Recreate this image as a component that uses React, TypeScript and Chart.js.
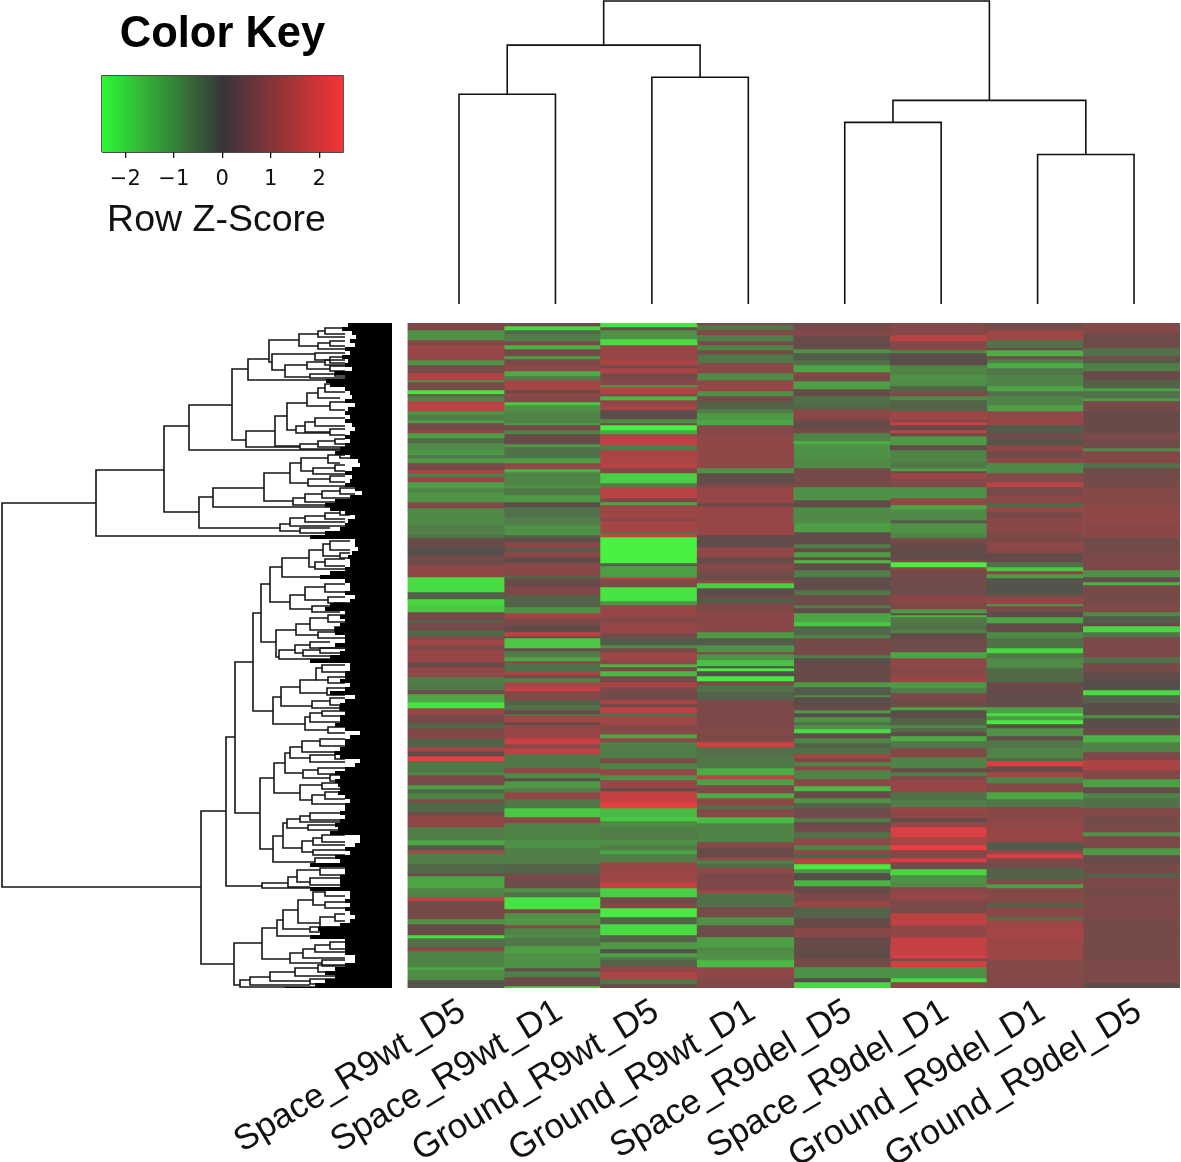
import React, { useEffect, useRef } from "react";
import { Chart, registerables } from "chart.js";

Chart.register(...registerables);

const FONT = "'Liberation Sans', Arial, sans-serif";

const colLabels = ["Space_R9wt_D5", "Space_R9wt_D1", "Ground_R9wt_D5", "Ground_R9wt_D1", "Space_R9del_D5", "Space_R9del_D1", "Ground_R9del_D1", "Ground_R9del_D5"];

// Each band: [row where the band ends, z-score]
const spaceR9wtD5 = [[7,.6],[17,-1],[23,.7],[25,1.2],[37,1],[42,-1],[50,.5],[57,1.4],[59,-1],[67,.5],[71,-2.2],[73,.4],[78,-.8],[88,1.5],[92,-1],[97,-.7],[100,-1.2],[107,.5],[110,.9],[115,-1.2],[120,-.4],[127,-.9],[132,-1.1],[135,-.6],[140,-1.1],[147,.5],[150,1.4],[154,-.7],[159,1],[165,-1.2],[169,-.8],[179,-1],[185,.7],[202,-.9],[212,-.7],[215,-.5],[224,.3],[232,0],[242,.4],[254,.9],[269,-2.1],[276,-.3],[282,-2],[289,-1.8],[297,.5],[300,-.3],[307,.5],[313,-.4],[317,.7],[322,1.2],[327,.6],[339,1],[344,.3],[354,.9],[360,-.7],[367,-.6],[371,.4],[379,-1.3],[385,-2.2],[392,1],[400,.5],[405,-.4],[411,.6],[415,.8],[424,-.3],[428,1.2],[433,.2],[438,2.2],[449,-.6],[452,-.9],[457,.6],[462,.5],[466,-1.2],[470,-.4],[476,-.8],[479,.7],[489,-.4],[493,.4],[504,.9],[517,-.7],[522,-1.3],[527,-.2],[530,1.3],[541,-.7],[550,-.4],[553,.4],[565,-1.3],[574,-.8],[578,1.5],[596,.5],[601,-1],[612,.3],[615,-2.1],[624,-.5],[628,.9],[644,-.8],[647,-1.3],[657,-.9],[665,-.1]];
const spaceR9wtD1 = [[3,.4],[7,-2],[11,-.4],[18,-.7],[22,.5],[26,-1.5],[33,.4],[36,-1.2],[42,.6],[48,.9],[53,-1.4],[57,-.7],[67,1.2],[70,.3],[73,.9],[79,.7],[82,-1.8],[88,-1],[100,-.8],[102,-1.1],[107,.5],[111,-.8],[117,.3],[121,.3],[124,-1.1],[135,-.5],[140,-1.2],[146,.9],[149,-1.5],[162,-.8],[165,-1],[172,-.6],[179,-1.1],[184,.1],[194,-.5],[202,-.7],[212,-1],[215,-.3],[219,.2],[225,.8],[229,-.2],[234,.9],[240,.2],[253,.8],[255,-.4],[264,.3],[267,.7],[272,.6],[284,-.3],[290,-1],[295,1.2],[302,.6],[309,.2],[313,1.6],[315,.3],[325,-1.8],[328,.3],[334,-.7],[338,-1.3],[340,.9],[349,-.5],[352,1.4],[355,.4],[359,-.8],[364,1.2],[368,1.7],[377,.7],[382,-.3],[387,-.5],[391,.3],[393,-.6],[399,1.2],[402,.3],[415,1],[421,1.8],[425,.8],[431,1.6],[445,-.6],[450,.9],[455,-.9],[458,.1],[465,-1.1],[469,-.7],[476,.9],[485,-.6],[494,-1.8],[500,.8],[517,-.8],[525,-1],[541,-.7],[551,-.3],[556,.5],[565,.4],[569,-1],[574,-.5],[586,-2.2],[590,.6],[595,-1],[602,-1.1],[605,.8],[611,-.8],[615,-.9],[623,-.6],[630,-1.2],[645,-1],[648,.2],[654,-.7],[663,.3],[665,-1.8]];
const groundR9wtD5 = [[4,-2.2],[7,.3],[16,-1],[22,-2.1],[37,1],[42,1.3],[45,.4],[50,1.3],[55,.5],[62,.7],[64,-1.1],[71,1.4],[73,.5],[77,-1.6],[82,.9],[87,1.2],[96,.1],[100,-.9],[102,.3],[107,-2.4],[111,-1.3],[115,1.3],[122,1.6],[127,-.7],[140,1.3],[145,1.5],[150,.7],[160,-1.9],[164,-.7],[175,1.5],[179,.6],[182,-1.3],[195,1.1],[198,.8],[209,1.2],[211,-.6],[214,1.8],[240,-2.4],[243,-.3],[254,-1.2],[256,1.5],[264,.7],[278,-2.2],[282,-1],[294,1],[300,.7],[310,1],[315,.4],[322,-.2],[325,-.9],[329,.5],[337,1.1],[341,.8],[344,-1.5],[348,.5],[353,-1.6],[359,.5],[364,1.3],[369,.6],[374,.4],[377,.6],[381,1.3],[384,.3],[390,1.6],[393,-.5],[402,1.1],[407,.7],[411,.8],[415,-1.3],[419,.9],[435,-.7],[440,.6],[446,-.8],[452,1],[457,-1],[465,1],[468,.2],[479,1.7],[485,2.2],[494,-1.6],[498,-1.8],[504,-.9],[517,-.7],[522,-1],[527,-.7],[531,-1.3],[539,-.7],[541,1.2],[550,1],[559,1.1],[565,1.7],[574,-1.9],[580,.4],[585,.7],[594,-2.3],[601,-.3],[612,-2.1],[619,-.3],[626,-1.1],[630,0],[634,-1.2],[637,-.6],[643,-.3],[649,.9],[656,1.4],[661,-.6],[665,.3]];
const groundR9wtD1 = [[2,.5],[7,-.6],[12,.7],[18,-.7],[22,.5],[27,-.8],[31,.5],[40,-.6],[50,.8],[57,-.9],[62,.9],[68,1],[73,-1],[78,.5],[86,-.3],[90,-.7],[97,-1.1],[102,-1.3],[112,.7],[145,.9],[150,-1],[160,.2],[164,.5],[180,1],[183,.3],[212,1],[224,.2],[234,.9],[240,.3],[249,.7],[257,.4],[260,.8],[265,-1.9],[272,.1],[275,.4],[280,-.2],[289,.6],[309,.8],[315,-1.1],[322,-.2],[329,-1],[331,.6],[337,-1],[343,-1.7],[345,0],[348,-2.3],[353,0],[358,-2.3],[362,.6],[369,-.5],[377,-.3],[405,.6],[411,.7],[419,.6],[424,1.9],[434,-.5],[445,-.6],[452,-1.4],[456,1.6],[462,-1.2],[470,.6],[475,-1.4],[482,.9],[486,-.5],[494,.7],[500,-1.6],[519,-.8],[525,.7],[534,.3],[537,.9],[541,-.7],[545,-.4],[550,.9],[567,.6],[570,1.2],[584,-.5],[594,.5],[602,-1],[614,.4],[624,-1.2],[631,-.9],[637,-1],[644,-1.6],[655,.9],[665,.7]];
const spaceR9delD5 = [[7,.5],[13,.7],[18,.3],[26,.3],[30,-1],[37,-.2],[42,-.5],[49,-1.3],[53,.8],[58,.5],[66,-1.2],[73,.3],[80,-.5],[86,-.4],[95,.8],[98,.6],[105,.2],[110,.5],[118,-.8],[121,-1.4],[135,-1],[145,-.9],[164,.5],[177,-1],[184,.2],[200,-.9],[209,-1.2],[215,.2],[221,.2],[225,-.7],[229,.3],[234,-1.2],[237,.3],[240,-1.6],[247,.2],[254,-.7],[267,.2],[272,-.6],[282,.4],[285,-.7],[290,.2],[299,-1.3],[303,-1.8],[312,-.4],[315,-.8],[332,.5],[335,-.7],[341,.1],[359,.3],[364,-1.1],[372,-.2],[374,-.9],[382,.1],[387,.3],[390,-1.1],[394,.1],[399,-1],[402,-.5],[406,-1],[410,-2.1],[415,.2],[420,-.8],[425,-.3],[431,-.5],[435,1.2],[439,.6],[443,-.8],[447,.9],[451,-.8],[456,-.8],[463,.8],[468,-1.6],[475,.3],[480,-1],[485,-.3],[495,.4],[499,-.7],[504,.3],[509,.5],[515,-.5],[522,.9],[527,-.8],[531,.9],[535,-.3],[541,1.5],[546,-2.3],[550,-1],[557,0],[563,-1.5],[570,.3],[578,.6],[584,1.1],[595,-.3],[605,.3],[614,.8],[624,.3],[635,.2],[644,.5],[655,-1],[659,0],[665,-2]];
const spaceR9delD1 = [[8,.7],[12,.8],[18,1.5],[27,.7],[30,-.8],[42,.1],[52,-.8],[58,-1],[63,-.9],[69,-.3],[73,.7],[77,-.9],[88,-.3],[97,1.1],[99,.7],[102,1.8],[107,.3],[110,1.6],[113,.3],[122,-1.1],[127,.2],[139,-.8],[145,-.6],[148,-1.2],[150,.3],[155,1.1],[164,.7],[175,-1],[182,.9],[186,-1.3],[197,-.9],[200,-.2],[210,-1],[215,-.8],[220,.5],[224,.3],[237,.2],[239,.6],[244,-2.4],[247,.9],[254,.5],[272,.4],[280,.8],[286,.6],[290,-1.1],[292,.2],[294,-1.5],[302,-.6],[307,-.5],[310,-.8],[315,.2],[329,.4],[335,-1.3],[345,.9],[352,.7],[359,1],[365,-1.1],[370,-.7],[377,.6],[384,.4],[387,-1.3],[395,.1],[402,-.3],[405,-.9],[409,-.4],[413,.2],[418,-1.4],[425,-.6],[434,.7],[445,-.8],[449,.3],[453,-.7],[457,.7],[464,1],[469,1],[477,-.5],[484,-.7],[490,1],[495,.8],[499,.2],[504,1],[514,2],[522,1.2],[527,2.3],[535,.7],[539,2],[546,.4],[552,-2],[560,-1],[564,-.9],[570,.8],[577,1],[584,.6],[590,.5],[602,1.6],[614,.9],[632,1.7],[635,2],[638,.7],[644,1.9],[655,-1],[659,-2],[665,.8]];
const groundR9delD1 = [[7,.5],[17,1.1],[25,-.5],[27,.3],[33,-1.4],[36,.4],[40,-.7],[45,-1.4],[52,-.6],[63,-.8],[68,-1.3],[73,-.5],[82,-.8],[88,-1.2],[95,.9],[102,1],[110,-.2],[117,.4],[122,-.1],[128,.9],[135,.4],[140,.9],[150,-.9],[159,.7],[164,1.5],[172,.5],[180,.8],[184,-.4],[189,1],[194,.5],[199,.8],[210,.8],[219,.6],[224,.9],[230,.8],[239,.2],[244,-.5],[248,-1.8],[251,.8],[255,-1.2],[272,-.1],[277,.7],[281,1],[283,-1.1],[289,.5],[294,.1],[300,-1.3],[305,.2],[309,.3],[315,-.9],[325,-.5],[330,-2],[335,-.6],[345,-.9],[359,-.4],[367,.3],[380,.2],[384,.3],[390,-1.2],[393,-2.1],[397,-1.1],[401,-2.3],[405,.1],[409,-1],[413,-1],[417,.2],[425,-.6],[435,-.8],[438,-.4],[443,2.1],[449,.3],[454,1.2],[460,-.8],[469,.7],[476,-1.3],[484,-.6],[489,.8],[497,.8],[504,.9],[519,1],[527,-.2],[531,1],[535,2],[541,.6],[545,.5],[557,-.3],[561,.7],[565,-1.2],[580,.7],[584,-.3],[594,.8],[597,-.5],[605,1.1],[617,1.2],[637,1.1],[665,.7]];
const groundR9delD5 = [[10,.7],[25,.4],[33,-.5],[36,.6],[40,-.2],[48,-.7],[57,.3],[65,-.3],[68,-1.2],[75,-.5],[78,-1.1],[88,.5],[110,.3],[117,.6],[125,.4],[128,-.9],[140,.7],[145,-.5],[155,.4],[165,.5],[182,.7],[200,.9],[215,.8],[222,.4],[232,.5],[247,.6],[254,-1],[259,.2],[262,-1.5],[272,.5],[282,.5],[289,.7],[293,-.9],[300,-.2],[303,.3],[309,-2],[314,-.6],[334,.6],[340,-.5],[349,.5],[357,.2],[367,0],[372,-2.1],[380,-.3],[392,.1],[395,-1],[405,.1],[412,.3],[419,-1.5],[429,-.8],[437,.6],[447,1.3],[456,.7],[464,-1.2],[470,.2],[475,-.8],[485,-.5],[493,.7],[504,.5],[509,.6],[513,-1],[525,.6],[532,-1.1],[540,.3],[550,.5],[554,-.3],[564,.6],[574,.5],[594,.6],[607,.5],[637,.5],[660,.6],[665,.1]];
const heatColumns = [spaceR9wtD5, spaceR9wtD1, groundR9wtD5, groundR9wtD1, spaceR9delD5, spaceR9delD1, groundR9delD1, groundR9delD5];

// Column dendrogram: [child, child, merge height]; children 0-7 are leaves, 8+ earlier merges
const colMerges = [[0,1,209],[2,3,226],[8,9,258],[4,5,181],[6,7,149],[11,12,203],[10,13,302]];

// Row dendrogram brackets: [depth, row A, child depth A, row B, child depth B]
const rowBrackets = [
[2,503,96,887,201],[96,470,164,536,350],[164,426,189,512,199],[189,405,232,450,345],[232,369,248,440,246],[246,431,275,447,300],
[248,359,269,380,345],[269,340,299,362,272],[272,354,315,370,285],[299,334,318,346,318],[318,331,325,337,345],[325,328,345,334,345],[318,343,330,349,345],[330,341,345,346,345],[315,353,345,360,330],[330,357,345,363,345],[285,365,307,377,310],[307,362,325,369,330],[325,360,345,365,345],[330,366,345,371,345],[310,374,335,378,345],[335,372,345,376,345],
[275,416,287,446,300],[287,403,307,430,296],[307,393,318,406,330],[318,388,325,398,340],[325,384,338,392,345],[338,381,345,386,345],[330,402,345,410,345],[296,426,305,433,330],[305,422,315,432,330],[315,418,345,426,345],[330,429,345,435,345],[300,444,318,449,345],[318,441,335,447,345],[335,439,345,444,345],
[199,497,213,528,280],[213,488,264,507,345],[264,473,290,501,293],[290,463,301,483,308],[301,458,328,471,313],[328,455,345,463,340],[340,452,355,458,355],[313,468,335,474,345],[335,465,345,471,345],[308,479,330,486,345],[330,476,345,482,345],[293,498,305,505,330],[305,494,322,502,345],[322,491,340,498,350],[340,488,355,494,355],[280,524,290,531,300],[290,518,305,526,345],[305,516,325,522,345],[325,513,340,519,345],[340,510,350,515,350],[300,528,330,533,345],
[201,811,226,964,234],[226,737,235,886,262],[235,662,253,813,260],[253,613,261,711,273],[261,584,270,642,276],[270,567,282,602,290],[282,558,309,577,345],[309,550,323,567,315],[323,544,330,556,340],[330,541,350,550,350],[340,553,350,558,350],[315,562,325,569,345],[325,559,345,566,345],[290,595,305,609,312],[305,587,325,600,328],[325,584,345,592,345],[328,597,345,603,345],[312,606,335,612,340],[335,603,350,609,350],
[276,630,296,657,279],[279,650,295,659,345],[296,624,310,635,318],[310,618,328,630,335],[328,615,345,622,345],[335,627,345,632,345],[318,632,345,638,345],[295,645,310,653,303],[310,642,330,648,345],[303,650,320,656,345],[320,648,345,653,345],
[273,697,281,724,305],[281,687,300,706,312],[300,680,316,693,327],[316,668,322,680,328],[322,665,345,672,345],[328,677,345,683,345],[327,688,345,695,345],[312,701,330,708,340],[330,698,345,705,345],[340,706,345,710,345],[305,717,310,730,328],[310,713,322,722,345],[322,711,345,716,345],[328,727,345,733,345],
[260,778,274,849,273],[274,763,285,793,300],[285,753,290,773,303],[290,747,302,758,310],[302,741,320,752,345],[320,739,345,746,345],[310,755,335,762,345],[335,752,345,759,345],[303,770,318,778,330],[318,768,345,774,345],[330,775,350,781,350],[300,785,322,800,312],[322,783,345,789,345],[312,795,325,804,345],[325,792,345,799,345],
[273,836,283,862,315],[283,823,287,848,302],[287,819,300,828,308],[300,816,310,822,345],[310,813,345,820,345],[308,825,345,830,345],[302,841,313,852,313],[313,838,322,845,345],[322,835,345,842,345],[313,850,345,855,345],[315,858,345,865,345],
[262,883,288,888,345],[288,877,297,887,310],[297,870,320,882,310],[320,868,345,875,345],[310,878,345,885,345],
[234,943,262,985,240],[262,928,277,959,290],[277,920,283,936,345],[283,910,298,929,310],[298,900,313,923,320],[313,892,325,905,325],[325,890,345,896,345],[325,902,345,908,345],[320,917,335,927,345],[335,914,345,921,345],[310,927,345,932,345],
[290,953,303,963,322],[303,949,315,958,345],[315,945,330,952,345],[330,942,345,949,345],[322,960,345,966,345],
[240,980,250,987,345],[250,977,270,985,310],[270,972,295,981,310],[295,968,318,976,345],[318,965,345,972,345],[310,979,345,984,345],
];

// Where the dense mass of leaf branches begins, for consecutive 4-row steps from the top
const leafMassDepth = [348,342,352,356,350,355,345,350,342,348,345,352,335,345,326,330,345,350,352,345,355,348,345,350,345,352,355,350,345,350,345,340,335,350,358,360,352,345,352,350,345,355,362,350,335,325,330,345,355,348,345,340,325,310,355,355,358,352,348,350,350,345,330,320,345,350,350,345,355,350,330,325,345,340,345,340,335,335,345,345,335,345,340,330,310,350,350,345,345,340,350,345,330,355,345,340,340,345,340,340,335,345,360,350,345,345,340,335,340,360,355,345,335,340,335,338,340,338,345,350,345,345,340,345,340,335,338,330,360,360,355,345,350,335,340,310,345,345,340,340,340,310,350,350,345,350,345,350,355,350,340,318,320,310,345,345,345,345,355,355,345,335,325,335,325,315,285];

const keyTicks = [-2, -1, 0, 1, 2];

function heatColor(z: number) {
  const t = Math.min(Math.abs(z) / 2.5, 1);
  const r = z > 0 ? 85 + 165 * t : 85 - 15 * t;
  const g = z > 0 ? 78 - 18 * t : 78 + 170 * t;
  const b = 75 - 10 * t;
  return `rgb(${r | 0},${g | 0},${b | 0})`;
}

function useChart(make: (c: HTMLCanvasElement) => Chart) {
  const ref = useRef<HTMLCanvasElement | null>(null);
  useEffect(() => {
    const chart = make(ref.current!);
    return () => chart.destroy();
  }, []);
  return ref;
}

const hiddenScale = (min: number, max: number, reverse = false) => ({
  type: "linear" as const, min, max, reverse, display: false,
});

function makeKey(c: HTMLCanvasElement) {
  const keyMin = -2.48, keyMax = 2.49;
  return new Chart(c, {
    type: "scatter",
    data: {
      datasets: [{
        data: [{ x: keyMin, y: 1 }, { x: keyMax, y: 1 }],
        showLine: true, pointRadius: 0, borderWidth: 0, fill: "origin", clip: false,
        backgroundColor: (ctx: any) => {
          const area = ctx.chart.chartArea;
          if (!area) return "#333";
          const g = ctx.chart.ctx.createLinearGradient(area.left, 0, area.right, 0);
          g.addColorStop(0, "#2ef733");
          g.addColorStop(0.5, "#38353a");
          g.addColorStop(1, "#f53336");
          return g;
        },
      }, {
        data: [{ x: keyMin, y: 0 }, { x: keyMin, y: 1 }, { x: keyMax, y: 1 }, { x: keyMax, y: 0 }, { x: keyMin, y: 0 }],
        showLine: true, pointRadius: 0, borderColor: "#111", borderWidth: 1.4, fill: false, clip: false,
      }],
    },
    options: {
      animation: false, responsive: false,
      layout: { padding: 0 },
      plugins: {
        legend: { display: false }, tooltip: { enabled: false },
        title: { display: true, text: "Color Key", fullSize: false, color: "#000", font: { family: FONT, size: 43.5, weight: "bold", lineHeight: 1 }, padding: { top: 13, bottom: 19.5 } },
        subtitle: { display: true, text: "Row Z-Score", position: "bottom", color: "#111", font: { family: FONT, size: 37.5, weight: "normal", lineHeight: 1 }, padding: { top: 0, bottom: 10.5 } },
      },
      scales: {
        x: {
          type: "linear", min: keyMin, max: keyMax, position: "bottom",
          grid: { display: true, drawOnChartArea: false, drawTicks: true, tickLength: 6, color: "#111", lineWidth: 1.3 },
          border: { display: false },
          afterBuildTicks: (s: any) => { s.ticks = keyTicks.map((value) => ({ value })); },
          ticks: { autoSkip: false, maxRotation: 0, color: "#111", padding: 9, font: { family: "'DejaVu Sans', sans-serif", size: 21 }, callback: (v: any) => String(v).replace("-", "\u2212") },
          afterFit: (s: any) => { s.height = 50; },
        },
        y: { type: "linear", min: 0, max: 1, position: "left", grid: { display: false }, border: { display: false }, ticks: { display: false }, afterFit: (s: any) => { s.width = 102; } },
        y2: { type: "linear", min: 0, max: 1, position: "right", grid: { display: false }, border: { display: false }, ticks: { display: false }, afterFit: (s: any) => { s.width = 90; } },
      },
    } as any,
  });
}

function makeColTree(c: HTMLCanvasElement) {
  const nodes: { pos: number; h: number }[] = colLabels.map((_, i) => ({ pos: i, h: 0 }));
  const datasets = colMerges.map(([a, b, h]) => {
    const A = nodes[a], B = nodes[b];
    nodes.push({ pos: (A.pos + B.pos) / 2, h });
    return {
      data: [{ x: A.pos, y: A.h }, { x: A.pos, y: h }, { x: B.pos, y: h }, { x: B.pos, y: B.h }],
      showLine: true, pointRadius: 0, borderColor: "#111", borderWidth: 1.6, clip: false,
    };
  });
  return new Chart(c, {
    type: "scatter",
    data: { datasets },
    options: {
      animation: false, responsive: false, layout: { padding: 0 },
      plugins: { legend: { display: false }, tooltip: { enabled: false } },
      scales: { x: hiddenScale(-0.529, 7.487), y: hiddenScale(0, 303) },
    } as any,
  });
}

function makeRowTree(c: HTMLCanvasElement) {
  const mass: { x: number; y: number }[] = [];
  leafMassDepth.forEach((d, i) => {
    const y = 323 + 4 * i + 2;
    mass.push({ x: 392, y }, { x: d, y }, { x: NaN, y: NaN });
  });
  const datasets: any[] = [{
    data: mass, showLine: true, pointRadius: 0, borderColor: "#000", borderWidth: 4.2, spanGaps: false, borderCapStyle: "butt",
  }];
  rowBrackets.forEach(([x, y1, c1, y2, c2]) => {
    datasets.push({
      data: [{ x: c1, y: y1 }, { x, y: y1 }, { x, y: y2 }, { x: c2, y: y2 }],
      showLine: true, pointRadius: 0, borderColor: "#151515", borderWidth: 1.6,
    });
  });
  return new Chart(c, {
    type: "scatter",
    data: { datasets },
    options: {
      animation: false, responsive: false, layout: { padding: 0 },
      plugins: { legend: { display: false }, tooltip: { enabled: false } },
      scales: { x: hiddenScale(0, 392), y: hiddenScale(323, 988, true) },
    } as any,
  });
}

function makeHeat(c: HTMLCanvasElement) {
  const maxBands = Math.max(...heatColumns.map((b) => b.length));
  const datasets = [];
  for (let i = 0; i < maxBands; i++) {
    datasets.push({
      data: heatColumns.map((bands) => (i < bands.length ? [i ? bands[i - 1][0] : 0, bands[i][0]] : null)),
      backgroundColor: heatColumns.map((bands) => (i < bands.length ? heatColor(bands[i][1]) : "transparent")),
      borderWidth: 0, barPercentage: 1, categoryPercentage: 1, grouped: false,
    });
  }
  return new Chart(c, {
    type: "bar",
    data: { labels: colLabels, datasets } as any,
    options: {
      animation: false, responsive: false,
      layout: { padding: { left: 407.5, right: 1, top: 0, bottom: 0 } },
      plugins: { legend: { display: false }, tooltip: { enabled: false } },
      scales: {
        x: {
          type: "category", grid: { display: false }, border: { display: false },
          ticks: { autoSkip: false, minRotation: 31, maxRotation: 31, color: "#111", padding: -5, labelOffset: 7, font: { family: FONT, size: 35 } },
          afterFit: (s: any) => { s.height = 174; },
        },
        y: hiddenScale(0, 665, true),
      },
    } as any,
  });
}

export default function App() {
  const keyRef = useChart(makeKey);
  const colRef = useChart(makeColTree);
  const rowRef = useChart(makeRowTree);
  const heatRef = useChart(makeHeat);
  const abs = (left: number, top: number, blur: number): React.CSSProperties => ({ position: "absolute", left, top, filter: `blur(${blur}px)` });
  return (
    <div style={{ position: "absolute", left: 0, top: 0, width: 1181, height: 1162, overflow: "hidden", background: "#fff" }}>
      <canvas ref={heatRef} width={1181} height={839} style={abs(0, 323, 0.7)} />
      <canvas ref={keyRef} width={433} height={250} style={abs(0, 0, 0.5)} />
      <canvas ref={colRef} width={773} height={304} style={abs(408, 0, 0.5)} />
      <canvas ref={rowRef} width={392} height={665} style={abs(0, 323, 0.5)} />
    </div>
  );
}
